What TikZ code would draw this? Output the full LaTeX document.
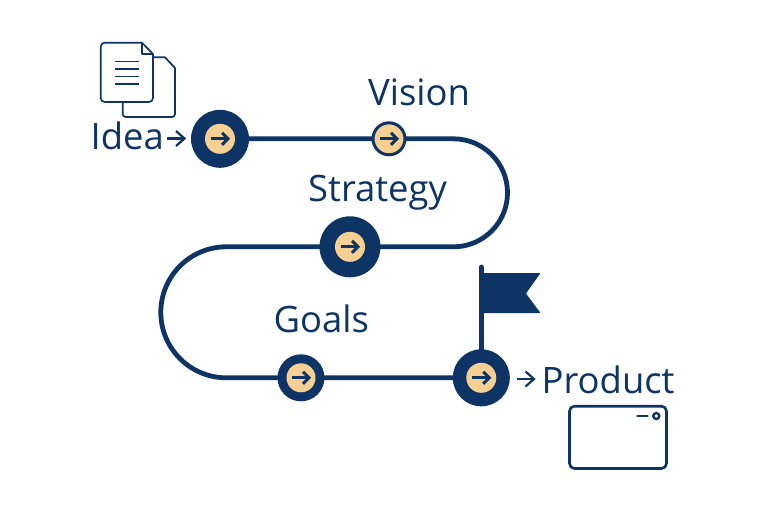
\documentclass[tikz,border=0pt]{standalone}
\usepackage{fontspec}
\usetikzlibrary{backgrounds}
\setmainfont{Open Sans}
\definecolor{navy}{HTML}{0D3464}
\definecolor{tan}{HTML}{F6CF93}
\tikzset{
  x=1pt,y=-1pt,
  lbl/.style={text=navy,font=\fontsize{36.4}{40}\selectfont,inner sep=0pt,anchor=base west},
  stopbig/.style={circle,fill=navy,inner sep=0pt,minimum size=#1},
  stopsmall/.style={circle,draw=navy,line width=3pt,fill=tan,inner sep=0pt,minimum size=32pt},
  core/.style={circle,fill=tan,inner sep=0pt,minimum size=30pt},
  route/.style={draw=navy,line width=4.8pt},
  icon/.style={draw=navy,line width=1.7pt,line join=round},
  pics/go/.style={code={
    \draw[navy,line width=3pt] (-9,0) -- (8,0);
    \draw[navy,line width=3pt,line join=miter] (2,-6) -- (8,0) -- (2,6);
  }},
  pics/pointer/.style={code={
    \draw[navy,line width=2.2pt] (-9,0) -- (8.5,0);
    \draw[navy,line width=2.2pt] (0,-7.5) -- (8.5,0) -- (0,7.5);
  }}
}
\begin{document}
\begin{tikzpicture}
\useasboundingbox (0,0) rectangle (768,512);
% route
\coordinate (ra) at (453.5,138.8);
\coordinate (rc) at (226.3,246.8);
\node[stopbig=58pt] (s1) at (220,138.8) {};
\node[stopsmall] (s2) at (389,138.8) {};
\node[stopbig=61pt] (s3) at (350,246.8) {};
\node[stopbig=47pt] (s4) at (301,377.8) {};
\node[stopbig=57pt] (s5) at (481.3,377.8) {};
\begin{scope}[on background layer]
\draw[route] (s1.center) -- (s2.center) -- (ra) arc[start angle=-90,end angle=90,radius=54] -- (s3.center) -- (rc)
  arc[start angle=270,end angle=90,radius=65.5] -- (s4.center) -- (s5.center);
\draw[navy,line width=4.8pt,line cap=round] (s5.center) -- (481.3,267);
\end{scope}
\node[core] (c1) at (s1) {};
\node[core] (c3) at (s3) {};
\node[core,minimum size=29pt] (c4) at (s4) {};
\node[core] (c5) at (s5) {};
\pic at (s1) {go};
\pic at (s2) {go};
\pic at (s3) {go};
\pic at (s4) {go};
\pic at (s5) {go};
% labels
\node[lbl] (idea) at (90.5,149) {Idea};
\node[lbl] (vision) at (368,105) {Vision};
\node[lbl] (strategy) at (308,201) {Strategy};
\node[lbl] (goals) at (273.5,332) {Goals};
\node[lbl] (product) at (541.5,393.5) {Product};
\pic at (176,138.5) {pointer};
\pic at (525.5,379) {pointer};
% flag
\fill[navy,rounded corners=0.8pt] (481,273) -- (540.5,273) -- (526,293.5) -- (540.5,313) -- (481,313) -- cycle;
% documents
\draw[icon] (153,57.3) -- (165,57.3) -- (175,68) -- (175,114) arc[start angle=0,end angle=90,radius=3] -- (125.7,117)
  arc[start angle=90,end angle=180,radius=3] -- (122.7,102);
\draw[icon,fill=white] (104.7,42.7) -- (142,42.7) -- (153,54) -- (153,98) arc[start angle=0,end angle=90,radius=4] -- (104.7,102)
  arc[start angle=90,end angle=180,radius=4] -- (100.7,46.7) arc[start angle=180,end angle=270,radius=4] -- cycle;
\draw[icon] (142,42.7) -- (142,54) -- (153,54);
\foreach \yy in {61.3,68.7,76.3,83.7} \draw[navy,line width=1.6pt] (115,\yy) -- (138.7,\yy);
% tablet
\draw[navy,line width=2.6pt,rounded corners=5pt] (569.5,406.2) rectangle (666.5,468.5);
\draw[navy,line width=2.8pt,line cap=round] (637.5,416) -- (647.5,416);
\draw[navy,line width=2.4pt] (656.3,416) circle[radius=3];
\end{tikzpicture}
\end{document}
